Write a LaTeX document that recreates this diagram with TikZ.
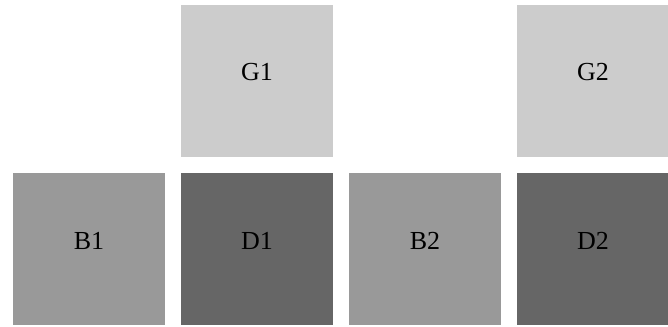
\documentclass[tikz,border=0pt]{standalone}
\usepackage{fontspec}
\setmainfont{Liberation Serif}
\begin{document}
\begin{tikzpicture}[x=1pt,y=-1pt,
  sq/.style={draw=none,minimum width=152pt,minimum height=152pt,inner sep=0pt},
  lightsq/.style={sq,fill=lightg},
  midsq/.style={sq,fill=midg},
  darksq/.style={sq,fill=darkg},
  lbl/.style={anchor=base,inner sep=0pt,font=\fontsize{26}{30}\selectfont,text=black}]
\definecolor{lightg}{HTML}{CCCCCC}
\definecolor{midg}{HTML}{999999}
\definecolor{darkg}{HTML}{666666}
\useasboundingbox (0,0) rectangle (668,326);
\node[lightsq] (G1) at (257,81) {};
\node[lightsq] (G2) at (593,81) {};
\node[midsq] (B1) at (89,249) {};
\node[darksq] (D1) at (257,249) {};
\node[midsq] (B2) at (425,249) {};
\node[darksq] (D2) at (593,249) {};
\node[lbl] (G1t) at (G1.center) {G1};
\node[lbl] (G2t) at (G2.center) {G2};
\node[lbl] (B1t) at (B1.center) {B1};
\node[lbl] (D1t) at (D1.center) {D1};
\node[lbl] (B2t) at (B2.center) {B2};
\node[lbl] (D2t) at (D2.center) {D2};
\end{tikzpicture}
\end{document}
